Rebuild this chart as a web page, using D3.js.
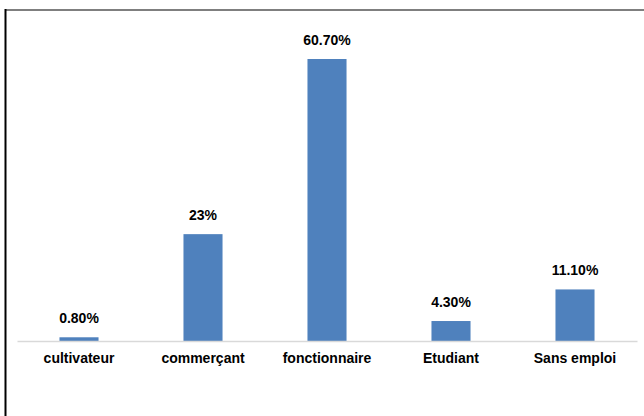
<!DOCTYPE html>
<html>
<head>
<meta charset="utf-8">
<script src="https://cdn.jsdelivr.net/npm/d3@7"></script>
<style>
  html, body { margin: 0; padding: 0; background: #fff; }
  svg { display: block; }
</style>
</head>
<body>
<div id="chart"></div>
<script>
// Chart data
const categories = ['cultivateur', 'commerçant', 'fonctionnaire', 'Etudiant', 'Sans emploi'];
const values = [0.8, 23, 60.7, 4.3, 11.1];
const valueLabels = ['0.80%', '23%', '60.70%', '4.30%', '11.10%'];

const width = 644;
const height = 416;
const margin = { top: 59, right: 7, bottom: 75, left: 17 };

const svg = d3.select('#chart')
    .append('svg')
    .attr('width', width)
    .attr('height', height);

// Outer frame (only top and left edges are visible in the reference)
svg.append('line')
    .attr('x1', 5).attr('x2', width)
    .attr('y1', 10).attr('y2', 10)
    .attr('stroke', '#7f7f7f').attr('stroke-width', 2);
svg.append('line')
    .attr('x1', 5.5).attr('x2', 5.5)
    .attr('y1', 9).attr('y2', height)
    .attr('stroke', '#000').attr('stroke-width', 2);

const x = d3.scaleBand()
    .domain(categories)
    .range([margin.left, width - margin.right])
    .paddingInner(0.685)
    .paddingOuter(0.3425);

const y = d3.scaleLinear()
    .domain([0, 60.7])
    .range([height - margin.bottom, margin.top]);

// Bars
svg.append('g')
    .selectAll('rect')
    .data(values)
    .join('rect')
    .attr('x', (d, i) => x(categories[i]))
    .attr('y', d => y(d))
    .attr('width', x.bandwidth())
    .attr('height', d => y(0) - y(d))
    .attr('fill', '#4f81bd');

// Baseline axis
const xAxis = d3.axisBottom(x).tickSize(0).tickSizeOuter(0).tickPadding(12);
const gx = svg.append('g')
    .attr('transform', `translate(0,${y(0)})`)
    .call(xAxis);
gx.select('.domain')
    .attr('stroke', '#d9d9d9')
    .attr('stroke-width', 1.5);
gx.selectAll('text')
    .attr('fill', '#000')
    .style('font-family', '"Liberation Sans", Arial, sans-serif')
    .style('font-weight', 'bold')
    .style('font-size', '14px');

// Value labels
svg.append('g')
    .selectAll('text')
    .data(values)
    .join('text')
    .attr('x', (d, i) => x(categories[i]) + x.bandwidth() / 2)
    .attr('y', d => y(d) - 14)
    .attr('text-anchor', 'middle')
    .attr('fill', '#000')
    .style('font-family', '"Liberation Sans", Arial, sans-serif')
    .style('font-weight', 'bold')
    .style('font-size', '14px')
    .text((d, i) => valueLabels[i]);
</script>
</body>
</html>
